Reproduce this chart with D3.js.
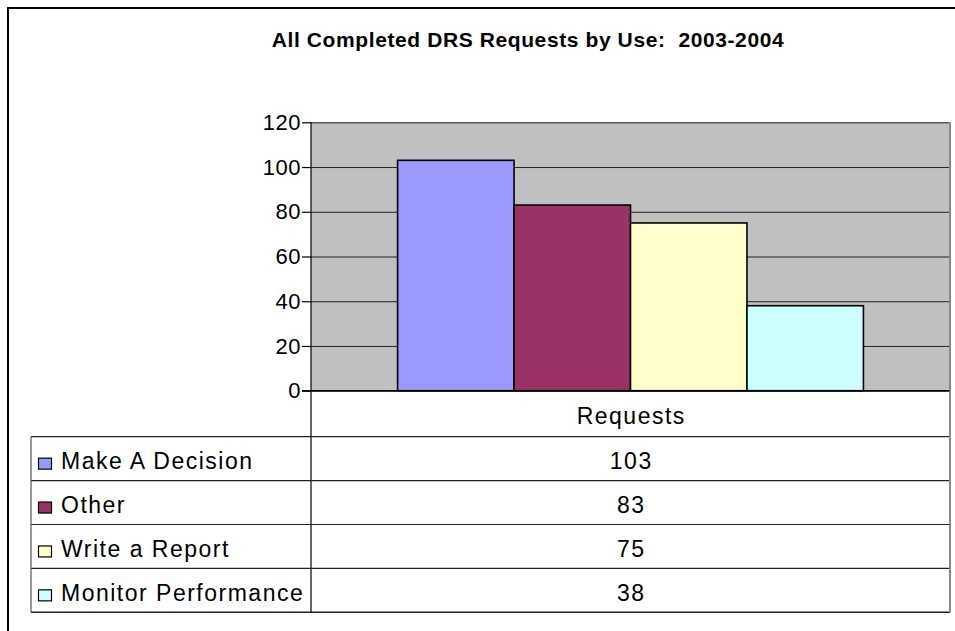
<!DOCTYPE html>
<html>
<head>
<meta charset="utf-8">
<script src="https://cdn.jsdelivr.net/npm/d3@7"></script>
<style>
  body { margin: 0; background: #fff; }
  svg { display: block; }
  text { white-space: pre; }
</style>
</head>
<body>
<svg id="svg" width="955" height="631"></svg>
<script>
// chart values
const title = "All Completed DRS Requests by Use:  2003-2004";
const series = ["Requests"];
const categories = ["Make A Decision", "Other", "Write a Report", "Monitor Performance"];
const values = [103, 83, 75, 38];
const colors = ["#9999FF", "#993366", "#FFFFCC", "#CCFFFF"];
const yTicks = [0, 20, 40, 60, 80, 100, 120];

window.addEventListener('load', function() {

    const svg = d3.select("#svg")
        .attr("font-family", "'Liberation Sans', Arial, sans-serif");

    const plot = { left: 311, right: 950, top: 122.3, bottom: 390.7 };
    const table = { left: 31, headBottom: 436.7, bottom: 612.3 };
    const fs = 23, ls = 1.5;

    // outer frame
    svg.append("rect")
        .attr("x", 8).attr("y", 8)
        .attr("width", 960).attr("height", 640)
        .attr("fill", "none").attr("stroke", "#000").attr("stroke-width", 2);

    svg.append("text")
        .attr("x", 528).attr("y", 47)
        .attr("text-anchor", "middle")
        .attr("font-weight", "bold")
        .attr("font-size", 21)
        .attr("letter-spacing", 0.6)
        .text(title);

    const y = d3.scaleLinear().domain([0, 120]).range([plot.bottom, plot.top]);
    const x0 = d3.scaleBand().domain(series).range([plot.left, plot.right]);
    const gap = x0.bandwidth() * 0.1355;
    const x1 = d3.scaleBand().domain(categories)
        .range([x0(series[0]) + gap, x0(series[0]) + x0.bandwidth() - gap]);

    // plot background
    svg.append("rect")
        .attr("x", plot.left).attr("y", plot.top)
        .attr("width", plot.right - plot.left).attr("height", plot.bottom - plot.top)
        .attr("fill", "#C0C0C0");

    // gridlines
    svg.append("g")
        .attr("transform", `translate(${plot.left},0)`)
        .call(d3.axisLeft(y).tickValues(yTicks).tickSize(-(plot.right - plot.left)).tickFormat(""))
        .call(g => g.select(".domain").remove())
        .call(g => g.selectAll("line").attr("stroke", "#222").attr("stroke-width", 1));

    // bars
    svg.append("g").selectAll("rect")
        .data(values)
        .join("rect")
        .attr("x", (d, i) => x1(categories[i]))
        .attr("y", d => y(d))
        .attr("width", x1.bandwidth())
        .attr("height", d => y(0) - y(d))
        .attr("fill", (d, i) => colors[i])
        .attr("stroke", "#000")
        .attr("stroke-width", 1.6);

    // plot right edge
    svg.append("line")
        .attr("x1", plot.right).attr("x2", plot.right)
        .attr("y1", plot.top).attr("y2", plot.bottom)
        .attr("stroke", "#888").attr("stroke-width", 2);

    // y axis
    svg.append("g")
        .attr("transform", `translate(${plot.left},0)`)
        .call(d3.axisLeft(y).tickValues(yTicks).tickSize(9).tickPadding(1))
        .call(g => g.select(".domain").attr("d", `M0,${plot.top}V${table.bottom}`).attr("stroke", "#000").attr("stroke-width", 1.2))
        .call(g => g.selectAll("line").attr("stroke", "#000").attr("stroke-width", 1.2))
        .call(g => g.selectAll("text").attr("font-size", 22).attr("letter-spacing", 0.5)
            .attr("fill", "#000").attr("font-family", "'Liberation Sans', Arial, sans-serif"));

    // data table
    const rowY = d3.scaleBand().domain(categories).range([table.headBottom, table.bottom]);
    const tg = svg.append("g").attr("font-size", fs).attr("letter-spacing", ls);
    const midX = x0(series[0]) + x0.bandwidth() / 2 + ls / 2;

    tg.append("line")
        .attr("x1", plot.left - 9).attr("x2", plot.right)
        .attr("y1", plot.bottom).attr("y2", plot.bottom)
        .attr("stroke", "#000").attr("stroke-width", 1.6);

    tg.append("text")
        .attr("x", midX)
        .attr("y", (plot.bottom + table.headBottom) / 2 + 10.5)
        .attr("text-anchor", "middle")
        .text(series[0]);

    tg.selectAll("line.row")
        .data(categories)
        .join("line")
        .attr("class", "row")
        .attr("x1", table.left).attr("x2", plot.right)
        .attr("y1", d => rowY(d)).attr("y2", d => rowY(d))
        .attr("stroke", "#222").attr("stroke-width", 1.2);

    tg.append("line")
        .attr("x1", table.left).attr("x2", plot.right)
        .attr("y1", table.bottom).attr("y2", table.bottom)
        .attr("stroke", "#222").attr("stroke-width", 1.6);

    tg.append("line")
        .attr("x1", table.left).attr("x2", table.left)
        .attr("y1", table.headBottom).attr("y2", table.bottom)
        .attr("stroke", "#555").attr("stroke-width", 1.2);

    tg.append("line")
        .attr("x1", plot.right).attr("x2", plot.right)
        .attr("y1", plot.bottom).attr("y2", table.bottom)
        .attr("stroke", "#888").attr("stroke-width", 2);

    tg.selectAll("rect.key")
        .data(categories)
        .join("rect")
        .attr("class", "key")
        .attr("x", 38.5)
        .attr("y", d => rowY(d) + rowY.bandwidth() / 2 - 0.5)
        .attr("width", 13).attr("height", 11)
        .attr("fill", (d, i) => colors[i])
        .attr("stroke", "#000").attr("stroke-width", 1.2);

    tg.selectAll("text.cat")
        .data(categories)
        .join("text")
        .attr("class", "cat")
        .attr("x", 61)
        .attr("y", d => rowY(d) + rowY.bandwidth() / 2 + 10.5)
        .text(d => d);

    tg.selectAll("text.val")
        .data(values)
        .join("text")
        .attr("class", "val")
        .attr("x", midX)
        .attr("y", (d, i) => rowY(categories[i]) + rowY.bandwidth() / 2 + 10.5)
        .attr("text-anchor", "middle")
        .text(d => d);
});
</script>
</body>
</html>
